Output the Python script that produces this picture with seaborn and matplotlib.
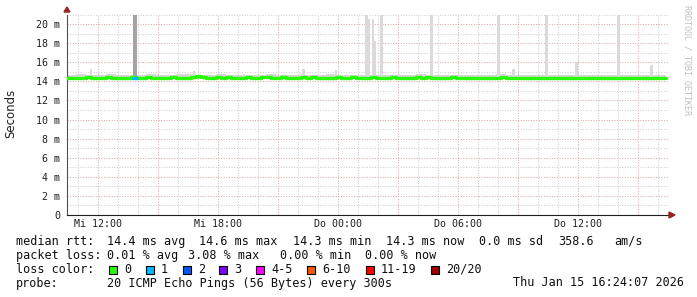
import numpy as np
import pandas as pd
import matplotlib
matplotlib.use("Agg")
import matplotlib.pyplot as plt
from matplotlib.patches import Rectangle
import seaborn as sns

# ---------------- data ----------------
# time in hours since Wednesday 00:00, median samples every 15 minutes
t_start = 10.4
t_step = 0.25
median_ms = [
    14.40, 14.35, 14.40, 14.40, 14.45, 14.40, 14.35, 14.40, 14.45, 14.40, 14.40, 14.35,
    14.40, 14.42, 14.35, 14.40, 14.45, 14.40, 14.40, 14.35, 14.40, 14.45, 14.40, 14.38,
    14.40, 14.50, 14.55, 14.45, 14.40, 14.35, 14.42, 14.40, 14.45, 14.40, 14.35, 14.40,
    14.45, 14.40, 14.40, 14.42, 14.45, 14.40, 14.40, 14.45, 14.40, 14.38, 14.40, 14.45,
    14.40, 14.45, 14.40, 14.40, 14.35, 14.40, 14.45, 14.40, 14.40, 14.42, 14.40, 14.35,
    14.40, 14.45, 14.40, 14.38, 14.40, 14.42, 14.40, 14.35, 14.40, 14.40, 14.45, 14.40,
    14.42, 14.40, 14.40, 14.35, 14.40, 14.45, 14.40, 14.40, 14.38, 14.40, 14.40, 14.35,
    14.35, 14.40, 14.40, 14.45, 14.40, 14.35, 14.40, 14.38, 14.40, 14.35, 14.40, 14.40,
    14.35, 14.35, 14.40, 14.38, 14.35, 14.40, 14.35, 14.38, 14.40, 14.35, 14.35, 14.40,
    14.40, 14.35, 14.38, 14.35, 14.40, 14.35, 14.30, 14.35, 14.40, 14.38, 14.35, 14.35,
]
# smoke band (every 30 minutes)
smoke_step = 0.5
smoke_hi = [
    14.70, 14.75, 14.70, 14.70, 14.75, 14.70, 14.65, 14.70, 14.75, 14.70,
    14.70, 14.75, 14.80, 14.70, 14.70, 14.75, 14.70, 14.70, 14.65, 14.70,
    14.75, 14.70, 14.70, 14.65, 14.70, 14.70, 14.75, 14.70, 14.70, 14.65,
    14.70, 14.70, 14.65, 14.70, 14.70, 14.75, 14.70, 14.65, 14.70, 14.70,
    14.65, 14.70, 14.70, 14.75, 14.65, 14.70, 14.65, 14.70, 14.70, 14.65,
    14.70, 14.65, 14.70, 14.65, 14.70, 14.65, 14.70, 14.65, 14.65, 14.70,
]
smoke_lo = [
    14.25, 14.25, 14.30, 14.25, 14.25, 14.30, 14.25, 14.25, 14.30, 14.25,
    14.25, 14.30, 14.30, 14.25, 14.25, 14.30, 14.25, 14.25, 14.25, 14.30,
    14.25, 14.25, 14.30, 14.25, 14.25, 14.25, 14.30, 14.25, 14.25, 14.25,
    14.25, 14.30, 14.25, 14.25, 14.25, 14.30, 14.25, 14.20, 14.25, 14.25,
    14.25, 14.20, 14.25, 14.25, 14.20, 14.25, 14.25, 14.20, 14.25, 14.20,
    14.25, 14.20, 14.25, 14.20, 14.25, 14.20, 14.25, 14.20, 14.20, 14.25,
]
# latency spikes: start hour, width (h), top (ms), shade
spike_start = [11.6, 13.75, 16.75, 19.25, 22.2, 23.85, 25.35, 25.5, 25.7, 25.8,
               26.1, 28.6, 31.95, 32.7, 34.35, 35.85, 37.95, 39.6]
spike_width = [0.1, 0.2, 0.1, 0.1, 0.15, 0.1, 0.15, 0.1, 0.1, 0.1,
               0.15, 0.15, 0.15, 0.15, 0.15, 0.15, 0.15, 0.15]
spike_top = [15.3, 21.5, 15.1, 14.8, 15.3, 15.2, 21.5, 20.5, 20.5, 18.2,
             21.5, 21.5, 21.5, 15.3, 21.5, 16.0, 21.5, 15.7]
spike_dark = [False, True, False, False, False, False, False, False, False, False,
              False, False, False, False, False, False, False, False]
# loss episode (1 of 20 lost)
loss1_start = 13.75
loss1_end = 13.95

x_ticks = [12, 18, 24, 30, 36]
x_labels = ["Mi 12:00", "Mi 18:00", "Do 00:00", "Do 06:00", "Do 12:00"]
y_ticks = [0, 2, 4, 6, 8, 10, 12, 14, 16, 18, 20]
y_labels = ["0"] + [f"{v} m" for v in y_ticks[1:]]

loss_labels = ["0", "1", "2", "3", "4-5", "6-10", "11-19", "20/20"]
loss_colors = ["#26ff00", "#00b8ff", "#0059ff", "#7e00ff", "#ff00ff",
               "#ff5500", "#ff0000", "#a10000"]

# ---------------- figure ----------------
W, H = 697, 297
sns.set_theme(style="white")
plt.rcParams["font.family"] = ["DejaVu Sans Mono"]
mono = 8.5
tick_fs = 7.2

fig = plt.figure(figsize=(W / 100, H / 100), dpi=100, facecolor="white")
L, R, T, B = 67, 669, 14.5, 215
ax = fig.add_axes([L / W, 1 - B / H, (R - L) / W, (B - T) / H])
ax.set_facecolor("white")
xmin, xmax = 10.45, 10.45 + (R - L) / 20.0
ax.set_xlim(xmin, xmax)
ax.set_ylim(0, 21)

# grid
for h in range(11, 41):
    col = "#e4a8a8" if h % 3 == 0 else "#cfcfcf"
    ax.axvline(h, color=col, lw=0.75, ls=(0, (1, 1.5)), zorder=0)
for v in range(1, 22):
    col = "#e4a8a8" if v % 2 == 0 else "#cfcfcf"
    ax.axhline(v, color=col, lw=0.75, ls=(0, (1, 1.5)), zorder=0)

# smoke
st = t_start + np.arange(len(smoke_hi)) * smoke_step
ax.fill_between(np.append(st, st[-1] + smoke_step), np.append(smoke_lo, smoke_lo[-1]),
                np.append(smoke_hi, smoke_hi[-1]), step="post", color="#d6d6d6",
                lw=0, zorder=1)

# spikes
for s, w, top, dk in zip(spike_start, spike_width, spike_top, spike_dark):
    ax.bar(s, top - 14.4, width=w, bottom=14.4, align="edge",
           color="#a3a3a3" if dk else "#dadada", lw=0, zorder=2)

# median line
mt = t_start + np.arange(len(median_ms)) * t_step
df = pd.DataFrame({"t": np.append(mt, mt[-1] + t_step),
                   "rtt": np.append(median_ms, median_ms[-1])})
sns.lineplot(data=df, x="t", y="rtt", ax=ax, color=loss_colors[0], lw=2.4,
             drawstyle="steps-post", zorder=4)
dfl = pd.DataFrame({"t": [loss1_start, loss1_end], "rtt": [14.4, 14.4]})
sns.lineplot(data=dfl, x="t", y="rtt", ax=ax, color=loss_colors[1], lw=2.4,
             zorder=5)

# axes styling
for s in ["top", "right"]:
    ax.spines[s].set_visible(False)
ax.spines["left"].set_color("#505050")
ax.spines["bottom"].set_color("#202020")
ax.spines["left"].set_linewidth(0.8)
ax.spines["bottom"].set_linewidth(0.8)
ax.set_xticks(x_ticks)
ax.set_xticklabels(x_labels, fontsize=tick_fs, color="#202020")
ax.set_yticks(y_ticks)
ax.set_yticklabels(y_labels, fontsize=tick_fs, color="#202020")
ax.tick_params(axis="y", length=3, width=0.7, color="#404040", pad=2, direction="out")
ax.tick_params(axis="x", length=0, pad=3)
ax.set_xlabel("")
ax.set_ylabel("")

# arrows
fig.patches.append(plt.Polygon([[(L - 3) / W, 1 - 12 / H], [(L + 3) / W, 1 - 12 / H],
                                [L / W, 1 - 7 / H]], closed=True, color="#992222",
                               transform=fig.transFigure, figure=fig))
fig.patches.append(plt.Polygon([[669 / W, 1 - (B - 3) / H], [669 / W, 1 - (B + 3) / H],
                                [675 / W, 1 - B / H]], closed=True, color="#992222",
                               transform=fig.transFigure, figure=fig))

def px(x, y):
    return x / W, 1 - y / H

fig.text(*px(11, 113), "Seconds", rotation=90, ha="center", va="center",
         fontsize=8.5, family="DejaVu Sans", color="#202020")
fig.text(*px(687, 5), "RRDTOOL / TOBI OETIKER", rotation=270, ha="center", va="top",
         fontsize=6.0, color="#c0c0c0")

lines = [
    (241.5, [(16, "median rtt:"), (107, "14.4 ms avg"), (199, "14.6 ms max"),
             (293, "14.3 ms min"), (386, "14.3 ms now"), (479, "0.0 ms sd"),
             (558, "358.6"), (614, "am/s")]),
    (255.5, [(16, "packet loss:"), (107, "0.01 % avg"), (188, "3.08 % max"),
             (280, "0.00 % min"), (365, "0.00 % now")]),
    (269.5, [(16, "loss color:")]),
    (283, [(16, "probe:"), (107, "20 ICMP Echo Pings (56 Bytes) every 300s"),
           (513, "Thu Jan 15 16:24:07 2026")]),
]
for y, items in lines:
    for x, s in items:
        fig.text(*px(x, y), s, ha="left", va="center", fontsize=mono, color="#101010")

box_x = [109, 146, 183, 219, 256, 307, 366, 431]
for bx, lab, col in zip(box_x, loss_labels, loss_colors):
    fig.patches.append(Rectangle(px(bx, 273.5), 8 / W, 8 / H, facecolor=col,
                                 edgecolor="black", lw=0.8, transform=fig.transFigure,
                                 figure=fig))
    fig.text(*px(bx + 15, 269.5), lab, ha="left", va="center", fontsize=mono,
             color="#101010")

fig.savefig("out.png", dpi=100, facecolor="white")
